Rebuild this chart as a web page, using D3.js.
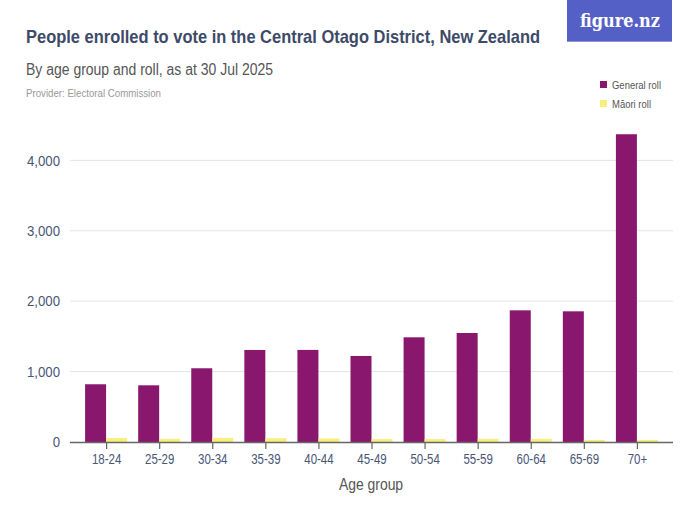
<!DOCTYPE html>
<html><head><meta charset="utf-8">
<script src="https://cdn.jsdelivr.net/npm/d3@7"></script>
<style>body{margin:0;background:#fff}svg{display:block}</style>
</head><body>
<svg id="c" width="700" height="525"></svg>
<script>
const categories = ["18-24","25-29","30-34","35-39","40-44","45-49","50-54","55-59","60-64","65-69","70+"];
const generalRoll = [820, 805, 1047, 1307, 1308, 1222, 1487, 1548, 1870, 1856, 4371];
const maoriRoll = [57, 45, 60, 54, 51, 42, 42, 45, 45, 30, 30];
const yTicks = [0, 1000, 2000, 3000, 4000];
const seriesNames = ["General roll", "Māori roll"];
const colors = ["#8a176e", "#f8f07c"];

const svg = d3.select("#c");
const font = "'Liberation Sans', Arial, sans-serif";
const plotLeft = 70, plotRight = 673, plotBottom = 442;

function condense(sel, factor) {
  sel.each(function() {
    const w = this.getComputedTextLength();
    d3.select(this).attr("textLength", w * factor).attr("lengthAdjust", "spacingAndGlyphs");
  });
}

const x = d3.scalePoint().domain(categories).range([plotLeft, plotRight]).padding(0.68);
const y = d3.scaleLinear().domain([0, 4000]).range([plotBottom, plotBottom - 4000 * 0.07041]);

// Title
svg.append("text").attr("x", 26).attr("y", 43).text("People enrolled to vote in the Central Otago District, New Zealand")
  .attr("font-family", font).attr("font-weight", "bold").attr("font-size", 18.5).attr("fill", "#3d4a68")
  .attr("textLength", 514).attr("lengthAdjust", "spacingAndGlyphs");
svg.append("text").attr("x", 26).attr("y", 75).text("By age group and roll, as at 30 Jul 2025")
  .attr("font-family", font).attr("font-size", 16).attr("fill", "#555")
  .attr("textLength", 247).attr("lengthAdjust", "spacingAndGlyphs");
svg.append("text").attr("x", 26).attr("y", 97).text("Provider: Electoral Commission")
  .attr("font-family", font).attr("font-size", 10.5).attr("fill", "#999")
  .attr("textLength", 135).attr("lengthAdjust", "spacingAndGlyphs");

// Logo
svg.append("rect").attr("x", 567).attr("y", 0).attr("width", 105).attr("height", 42).attr("fill", "#5560c6");
svg.append("rect").attr("x", 567).attr("y", 41).attr("width", 105).attr("height", 1).attr("fill", "#8d94d8");
svg.append("text").attr("x", 620).attr("y", 27).attr("text-anchor", "middle").text("figure.nz")
  .attr("font-family", "'DejaVu Serif', 'Liberation Serif', serif").attr("font-weight", "bold").attr("font-size", 19).attr("fill", "#fff")
  .attr("textLength", 80).attr("lengthAdjust", "spacingAndGlyphs");

// Legend
const legendWidths = [49, 39];
seriesNames.forEach((n, i) => {
  const ly = 81 + i * 19;
  svg.append("rect").attr("x", 600).attr("y", ly).attr("width", 7).attr("height", 7).attr("fill", colors[i]);
  svg.append("text").attr("x", 612).attr("y", ly + 7.5).text(n)
    .attr("font-family", font).attr("font-size", 11).attr("fill", "#555")
    .attr("textLength", legendWidths[i]).attr("lengthAdjust", "spacingAndGlyphs");
});

// Gridlines
svg.append("g").selectAll("line").data(yTicks.filter(d => d > 0)).join("line")
  .attr("x1", plotLeft).attr("x2", plotRight).attr("y1", d => y(d)).attr("y2", d => y(d))
  .attr("stroke", "#e4e4e4").attr("stroke-width", 1);

// Y axis labels
const yAxis = d3.axisLeft(y).tickValues(yTicks).tickSize(0).tickPadding(0).tickFormat(d3.format(","));
const ya = svg.append("g").attr("transform", `translate(60,0)`).call(yAxis);
ya.select(".domain").remove();
ya.selectAll("text").attr("font-family", font).attr("font-size", 15).attr("fill", "#485676");
condense(ya.selectAll("text"), 0.88);

// Bars
const bw = 21;
const seriesData = [generalRoll, maoriRoll];
seriesData.forEach((vals, si) => {
  svg.append("g").selectAll("rect").data(vals).join("rect")
    .attr("x", (d, i) => x(categories[i]) - bw + si * bw)
    .attr("y", d => y(d)).attr("width", bw).attr("height", d => plotBottom - y(d))
    .attr("fill", colors[si]);
});

// X axis
const xAxis = d3.axisBottom(x).tickSize(7).tickPadding(5).tickSizeOuter(0);
const xa = svg.append("g").attr("transform", `translate(0,${plotBottom})`).call(xAxis);
xa.select(".domain").attr("d", `M${plotLeft},0.5H${plotRight}`).attr("stroke", "#666").attr("stroke-width", 1.5);
xa.selectAll(".tick line").attr("stroke", "#666").attr("stroke-width", 1.2);
xa.selectAll("text").attr("font-family", font).attr("font-size", 14).attr("fill", "#485676");
condense(xa.selectAll("text"), 0.82);

const xl = svg.append("text").attr("x", 371).attr("y", 490).attr("text-anchor", "middle").text("Age group")
  .attr("font-family", font).attr("font-size", 16).attr("fill", "#555");
condense(xl, 0.87);
</script>
</body></html>
